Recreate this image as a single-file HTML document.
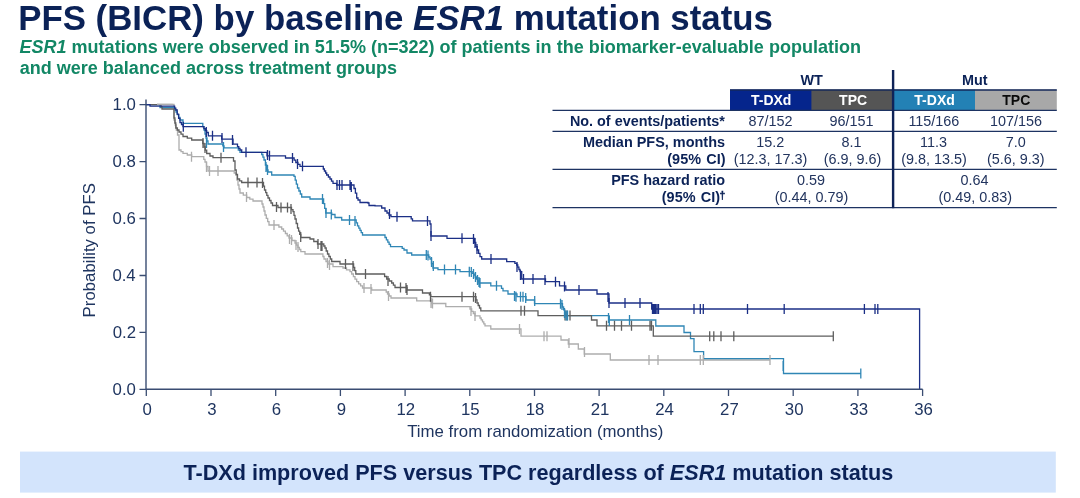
<!DOCTYPE html>
<html><head><meta charset="utf-8">
<style>
html,body{margin:0;padding:0;background:#fff;}
body{width:1080px;height:498px;position:relative;overflow:hidden;font-family:"Liberation Sans",sans-serif;}
svg{position:absolute;left:0;top:0;will-change:transform;}
svg text{font-family:"Liberation Sans",sans-serif;white-space:pre;}
</style></head><body>
<svg width="1080" height="498" viewBox="0 0 1080 498">
<rect x="20" y="451.6" width="1035.8" height="41" fill="#d3e4fc"/>
<path d="M157.0,104.4 L172.5,104.4 L174.0,104.4 L174.0,120.0 L175.2,120.0 L175.2,125.0 L176.3,125.0 L176.3,130.0 L177.5,130.0 L177.5,135.0 L179.0,135.0 L179.0,150.0 L181.0,150.0 L181.0,151.7 L183.0,151.7 L183.0,153.3 L187.3,153.3 L187.3,155.0 L191.7,155.0 L191.7,156.7 L202.5,156.7 L203.8,156.7 L203.8,159.3 L205.0,159.3 L205.0,162.0 L206.5,162.0 L206.5,166.5 L208.0,166.5 L208.0,171.0 L232.5,171.0 L234.2,171.0 L234.2,173.0 L236.0,173.0 L236.0,175.0 L237.0,175.0 L237.0,180.0 L238.0,180.0 L238.0,185.0 L239.0,185.0 L239.0,189.0 L240.0,189.0 L240.0,193.0 L243.3,193.0 L243.3,195.2 L246.7,195.2 L246.7,197.5 L249.8,197.5 L249.8,199.2 L253.0,199.2 L253.0,201.0 L261.0,201.0 L262.0,201.0 L262.0,204.0 L263.0,204.0 L263.0,207.0 L264.0,207.0 L264.0,211.0 L265.0,211.0 L265.0,215.0 L266.3,215.0 L266.3,218.3 L267.7,218.3 L267.7,221.7 L269.0,221.7 L269.0,225.0 L276.0,225.0 L278.9,225.0 L278.9,227.0 L281.7,227.0 L281.7,229.0 L283.5,229.0 L283.5,231.2 L285.4,231.2 L285.4,233.5 L287.2,233.5 L287.2,235.8 L289.0,235.8 L289.0,238.0 L292.0,238.0 L292.0,240.5 L295.0,240.5 L295.0,243.0 L296.4,243.0 L296.4,245.2 L297.9,245.2 L297.9,247.3 L299.4,247.3 L299.4,249.5 L300.8,249.5 L300.8,251.7 L305.0,251.7 L305.0,254.0 L321.7,254.0 L322.9,254.0 L322.9,256.5 L324.0,256.5 L324.0,259.0 L326.0,259.0 L326.0,261.5 L328.0,261.5 L328.0,264.0 L333.0,264.0 L333.0,266.7 L343.0,266.7 L343.0,268.0 L346.5,268.0 L346.5,269.9 L350.0,269.9 L350.0,271.7 L351.7,271.7 L351.7,274.0 L353.4,274.0 L353.4,276.6 L355.0,276.6 L355.0,279.1 L356.7,279.1 L356.7,281.7 L358.6,281.7 L358.6,283.8 L360.6,283.8 L360.6,285.9 L362.5,285.9 L362.5,288.0 L371.0,288.0 L371.7,288.0 L371.7,290.0 L385.0,290.0 L386.2,290.0 L386.2,292.0 L387.5,292.0 L387.5,294.0 L389.2,294.0 L389.2,296.0 L391.0,296.0 L391.0,298.0 L413.0,298.0 L416.7,298.0 L416.7,300.8 L429.0,300.8 L431.7,300.8 L431.7,303.5 L443.0,303.5 L445.8,303.5 L445.8,306.7 L465.0,306.7 L470.0,306.7 L470.0,309.0 L471.7,309.0 L471.7,311.3 L473.3,311.3 L473.3,313.5 L475.0,313.5 L475.0,315.8 L480.0,315.8 L480.0,318.0 L481.2,318.0 L481.2,319.9 L482.5,319.9 L482.5,321.9 L483.8,321.9 L483.8,323.9 L485.0,323.9 L485.0,325.8 L490.8,325.8 L490.8,329.0 L520.5,329.0 L521.0,329.0 L521.0,336.2 L560.8,336.2 L561.0,336.2 L561.0,340.0 L568.0,340.0 L568.3,340.0 L568.3,344.0 L578.0,344.0 L578.3,344.0 L578.3,349.0 L584.0,349.0 L584.3,349.0 L584.3,354.0 L610.0,354.0 L610.3,354.0 L610.3,360.0 L770.0,360.0" fill="none" stroke="#adadad" stroke-width="1.3" stroke-linejoin="miter"/><path d="M146.0,104.7 L158.0,104.7 L160.0,104.7 L160.0,107.5 L173.3,107.5 L174.7,107.5 L174.7,109.8 L176.0,109.8 L176.0,112.0 L177.3,112.0 L177.3,114.7 L178.7,114.7 L178.7,117.3 L180.0,117.3 L180.0,120.0 L183.0,120.0 L183.0,123.3 L201.7,123.3 L202.8,123.3 L202.8,126.7 L204.0,126.7 L204.0,130.0 L205.0,130.0 L205.0,134.0 L206.0,134.0 L206.0,138.0 L207.0,138.0 L207.0,141.0 L208.0,141.0 L208.0,144.0 L221.7,144.0 L222.8,144.0 L222.8,145.9 L224.0,145.9 L224.0,147.8 L236.7,147.8 L238.3,147.8 L238.3,150.1 L240.0,150.1 L240.0,152.3 L256.7,152.3 L261.7,152.3 L261.7,154.5 L262.9,154.5 L262.9,157.2 L264.0,157.2 L264.0,160.0 L265.4,160.0 L265.4,165.0 L266.7,165.0 L266.7,170.0 L268.0,170.0 L268.0,172.0 L271.7,172.0 L271.7,175.0 L286.7,175.0 L294.0,175.0 L294.0,176.3 L295.2,176.3 L295.2,180.2 L296.3,180.2 L296.3,184.1 L297.5,184.1 L297.5,188.0 L298.9,188.0 L298.9,191.0 L300.3,191.0 L300.3,194.0 L301.7,194.0 L301.7,197.0 L310.0,197.0 L310.0,199.0 L322.5,199.0 L323.6,199.0 L323.6,203.7 L324.7,203.7 L324.7,208.3 L325.8,208.3 L325.8,213.0 L331.7,213.0 L331.7,214.5 L335.0,214.5 L335.0,217.5 L341.7,217.5 L341.7,220.0 L355.0,220.0 L356.2,220.0 L356.2,222.9 L357.5,222.9 L357.5,225.8 L358.8,225.8 L358.8,228.1 L360.0,228.1 L360.0,230.4 L361.2,230.4 L361.2,232.7 L362.5,232.7 L362.5,235.0 L381.7,235.0 L385.0,235.0 L385.0,237.5 L386.4,237.5 L386.4,239.8 L387.8,239.8 L387.8,242.1 L389.1,242.1 L389.1,244.4 L390.5,244.4 L390.5,246.7 L400.5,246.7 L402.2,246.7 L402.2,248.3 L404.0,248.3 L404.0,250.0 L407.0,250.0 L407.0,253.0 L411.7,253.0 L411.7,255.0 L427.5,255.0 L428.8,255.0 L428.8,257.0 L430.0,257.0 L430.0,259.0 L431.5,259.0 L431.5,263.5 L433.0,263.5 L433.0,268.0 L438.0,268.0 L438.0,269.6 L458.0,269.6 L460.0,269.6 L460.0,271.7 L470.5,271.7 L472.2,271.7 L472.2,273.4 L474.0,273.4 L474.0,275.0 L475.2,275.0 L475.2,277.0 L476.5,277.0 L476.5,279.0 L477.8,279.0 L477.8,281.0 L479.0,281.0 L479.0,283.0 L489.0,283.0 L490.8,283.0 L490.8,285.8 L500.0,285.8 L501.5,285.8 L501.5,288.3 L503.0,288.3 L503.0,290.8 L508.0,290.8 L508.0,294.0 L515.0,294.0 L517.0,294.0 L517.0,296.7 L525.0,296.7 L526.0,296.7 L526.0,300.0 L534.0,300.0 L534.5,300.0 L534.5,303.7 L561.2,303.7 L562.5,303.7 L562.5,307.0 L563.6,307.0 L563.6,309.9 L564.7,309.9 L564.7,312.7 L565.8,312.7 L565.8,315.6 L608.0,315.6 L609.0,315.6 L609.0,320.0 L655.0,320.0 L655.8,320.0 L655.8,326.0 L683.3,326.0 L684.0,326.0 L684.0,332.5 L690.0,332.5 L690.5,332.5 L690.5,338.7 L693.3,338.7 L694.0,338.7 L694.0,351.7 L703.3,351.7 L703.6,351.7 L703.6,358.7 L783.0,358.7 L783.5,358.7 L783.5,373.5 L860.8,373.5" fill="none" stroke="#2f86b5" stroke-width="1.3" stroke-linejoin="miter"/><path d="M146.0,104.7 L160.0,104.7 L161.0,104.7 L161.0,106.8 L162.0,106.8 L162.0,109.0 L172.5,109.0 L174.0,109.0 L174.0,118.0 L174.9,118.0 L174.9,123.0 L175.8,123.0 L175.8,128.0 L177.4,128.0 L177.4,130.0 L179.0,130.0 L179.0,132.0 L181.0,132.0 L181.0,134.2 L183.0,134.2 L183.0,136.5 L187.3,136.5 L187.3,138.2 L191.7,138.2 L191.7,140.0 L201.7,140.0 L202.8,140.0 L202.8,143.5 L204.0,143.5 L204.0,147.0 L205.3,147.0 L205.3,150.2 L206.7,150.2 L206.7,153.5 L210.0,153.5 L210.0,156.0 L213.0,156.0 L213.0,157.7 L232.5,157.7 L233.5,157.7 L233.5,161.0 L235.0,161.0 L235.0,170.0 L236.2,170.0 L236.2,174.5 L237.5,174.5 L237.5,179.0 L239.6,179.0 L239.6,180.8 L241.7,180.8 L241.7,182.5 L262.5,182.5 L263.5,182.5 L263.5,186.2 L264.5,186.2 L264.5,190.0 L265.7,190.0 L265.7,192.7 L266.8,192.7 L266.8,195.3 L268.0,195.3 L268.0,198.0 L269.5,198.0 L269.5,200.5 L271.0,200.5 L271.0,203.0 L272.5,203.0 L272.5,205.5 L278.0,205.5 L278.0,207.5 L290.0,207.5 L291.5,207.5 L291.5,209.6 L293.0,209.6 L293.0,211.7 L294.0,211.7 L294.0,215.3 L295.0,215.3 L295.0,219.0 L296.2,219.0 L296.2,223.5 L297.5,223.5 L297.5,228.0 L298.6,228.0 L298.6,231.2 L299.7,231.2 L299.7,234.3 L300.8,234.3 L300.8,237.5 L310.0,237.5 L310.0,239.0 L313.8,239.0 L313.8,241.5 L317.5,241.5 L317.5,244.0 L322.5,244.0 L323.8,244.0 L323.8,246.0 L325.0,246.0 L325.0,248.0 L326.2,248.0 L326.2,251.0 L327.5,251.0 L327.5,254.0 L328.9,254.0 L328.9,256.5 L330.3,256.5 L330.3,259.0 L331.7,259.0 L331.7,261.5 L340.0,261.5 L340.0,264.0 L352.5,264.0 L353.6,264.0 L353.6,267.3 L354.7,267.3 L354.7,270.7 L355.8,270.7 L355.8,274.0 L382.5,274.0 L384.6,274.0 L384.6,276.5 L386.7,276.5 L386.7,279.0 L389.2,279.0 L389.2,281.0 L391.7,281.0 L391.7,283.0 L393.4,283.0 L393.4,285.2 L395.0,285.2 L395.0,287.5 L406.7,287.5 L407.0,287.5 L407.0,290.0 L421.7,290.0 L422.5,290.0 L422.5,293.0 L428.0,293.0 L429.4,293.0 L429.4,294.9 L430.8,294.9 L430.8,296.7 L475.0,296.7 L476.0,296.7 L476.0,299.9 L477.0,299.9 L477.0,303.0 L478.2,303.0 L478.2,305.5 L479.5,305.5 L479.5,308.0 L480.8,308.0 L480.8,310.8 L537.5,310.8 L538.0,310.8 L538.0,315.6 L590.8,315.6 L591.5,315.6 L591.5,320.0 L596.7,320.0 L597.0,320.0 L597.0,325.8 L653.0,325.8 L653.3,325.8 L653.3,336.2 L833.3,336.2" fill="none" stroke="#5e5e5e" stroke-width="1.3" stroke-linejoin="miter"/><path d="M146.0,104.7 L150.0,104.7 L150.0,106.2 L173.3,106.2 L174.6,106.2 L174.6,108.1 L175.8,108.1 L175.8,110.0 L177.2,110.0 L177.2,114.2 L178.6,114.2 L178.6,118.3 L180.0,118.3 L180.0,122.5 L181.5,122.5 L181.5,124.6 L183.0,124.6 L183.0,126.7 L202.5,126.7 L203.9,126.7 L203.9,128.6 L205.3,128.6 L205.3,130.6 L206.7,130.6 L206.7,132.5 L208.3,132.5 L208.3,135.8 L221.7,135.8 L221.7,139.2 L232.5,139.2 L233.0,139.2 L233.0,144.2 L237.5,144.2 L237.5,146.7 L238.8,146.7 L238.8,148.3 L240.0,148.3 L240.0,150.0 L241.7,150.0 L241.7,152.3 L266.7,152.3 L267.0,152.3 L267.0,155.8 L285.0,155.8 L285.5,155.8 L285.5,158.0 L292.5,158.0 L294.1,158.0 L294.1,160.2 L295.8,160.2 L295.8,162.5 L297.9,162.5 L297.9,164.4 L300.0,164.4 L300.0,166.3 L319.0,166.3 L323.3,166.3 L323.3,169.0 L324.4,169.0 L324.4,171.0 L325.6,171.0 L325.6,173.0 L326.7,173.0 L326.7,175.0 L328.4,175.0 L328.4,177.0 L330.0,177.0 L330.0,179.0 L331.5,179.0 L331.5,181.2 L333.0,181.2 L333.0,183.3 L336.7,183.3 L336.7,185.0 L353.0,185.0 L354.0,185.0 L354.0,188.5 L355.4,188.5 L355.4,193.2 L356.7,193.2 L356.7,198.0 L358.0,198.0 L358.0,200.0 L360.0,200.0 L360.0,202.5 L368.0,202.5 L368.0,203.0 L369.0,203.0 L369.0,205.5 L375.0,205.5 L375.0,205.8 L381.7,205.8 L381.7,208.0 L385.0,208.0 L385.0,211.0 L387.0,211.0 L387.0,213.0 L389.0,213.0 L389.0,215.0 L391.0,215.0 L391.0,216.7 L410.0,216.7 L411.2,216.7 L411.2,218.8 L412.5,218.8 L412.5,220.8 L427.5,220.8 L430.0,220.8 L430.0,224.0 L431.0,224.0 L431.0,236.0 L446.7,236.0 L447.0,236.0 L447.0,238.3 L473.3,238.3 L474.6,238.3 L474.6,242.5 L475.8,242.5 L475.8,246.7 L477.2,246.7 L477.2,250.0 L478.6,250.0 L478.6,253.4 L480.0,253.4 L480.0,256.7 L481.7,256.7 L481.7,259.0 L505.0,259.0 L506.7,259.0 L506.7,261.7 L513.0,261.7 L514.9,261.7 L514.9,263.4 L516.7,263.4 L516.7,265.0 L517.8,265.0 L517.8,267.2 L518.9,267.2 L518.9,269.5 L520.0,269.5 L520.0,271.7 L521.7,271.7 L521.7,279.0 L545.0,279.0 L545.5,279.0 L545.5,281.7 L559.0,281.7 L559.5,281.7 L559.5,285.8 L564.0,285.8 L565.8,285.8 L565.8,290.0 L596.7,290.0 L597.0,290.0 L597.0,294.0 L608.0,294.0 L609.0,294.0 L609.0,303.0 L650.8,303.0 L651.7,303.0 L651.7,309.0 L919.6,309.0 L919.6,389.3" fill="none" stroke="#1b2f86" stroke-width="1.3" stroke-linejoin="miter"/><path d="M157.0,104.4 L172.8,104.4" fill="none" stroke="#adadad" stroke-width="1.3" stroke-linejoin="miter"/><path d="M191.5,151.7V161.7M206.5,162.0V172.0M209.5,166.0V176.0M218.0,166.0V176.0M246.5,192.0V202.0M274.0,220.0V230.0M289.5,234.0V244.0M291.5,235.0V245.0M296.0,240.0V250.0M298.0,242.0V252.0M327.5,258.0V268.0M329.5,260.0V270.0M364.0,283.0V293.0M371.0,284.0V294.0M388.5,291.0V301.0M431.0,298.0V308.0M432.5,298.5V308.5M471.0,306.0V316.0M475.0,311.0V321.0M519.5,324.0V334.0M544.0,331.2V341.2M547.0,331.2V341.2M569.0,338.0V348.0M584.5,347.0V357.0M649.0,355.0V365.0M658.0,355.0V365.0M700.3,355.0V365.0M703.3,355.0V365.0M770.0,355.0V365.0" fill="none" stroke="#adadad" stroke-width="1.3"/><path d="M203.0,138.0V148.0M205.0,143.0V153.0M221.0,152.7V162.7M248.0,177.5V187.5M257.0,177.5V187.5M262.5,178.0V188.0M276.5,202.0V212.0M281.0,202.5V212.5M287.5,202.5V212.5M291.0,204.0V214.0M300.7,232.0V242.0M318.0,239.0V249.0M321.0,241.0V251.0M322.0,241.0V251.0M345.5,259.0V269.0M353.0,261.0V271.0M365.5,269.0V279.0M388.0,276.0V286.0M400.5,282.5V292.5M406.0,283.0V293.0M407.0,285.0V295.0M430.5,291.7V301.7M462.0,291.7V301.7M473.5,291.7V301.7M475.5,293.0V303.0M521.0,305.8V315.8M524.5,305.8V315.8M565.0,310.6V320.6M567.0,310.6V320.6M570.0,310.6V320.6M606.5,320.8V330.8M614.5,320.8V330.8M621.5,320.8V330.8M631.5,320.8V330.8M650.0,320.8V330.8M651.5,320.8V330.8M709.7,331.2V341.2M713.8,331.2V341.2M721.0,331.2V341.2M733.8,331.2V341.2M833.3,331.2V341.2" fill="none" stroke="#5e5e5e" stroke-width="1.3"/><path d="M206.5,138.0V148.0M223.5,142.0V152.0M266.0,162.0V172.0M267.5,165.0V175.0M322.5,194.0V204.0M326.0,208.0V218.0M331.3,209.5V219.5M349.5,215.0V225.0M355.0,216.0V226.0M426.3,250.0V260.0M428.0,250.5V260.5M431.5,257.0V267.0M433.3,261.0V271.0M444.5,264.6V274.6M455.5,264.6V274.6M469.3,266.7V276.7M471.3,267.0V277.0M473.5,269.0V279.0M475.5,272.0V282.0M477.5,275.0V285.0M479.0,277.0V287.0M480.0,278.0V288.0M496.5,280.8V290.8M514.5,291.0V301.0M516.0,291.7V301.7M520.5,291.7V301.7M523.0,291.7V301.7M525.7,293.0V303.0M534.7,296.0V306.0M560.5,298.7V308.7M562.0,300.0V310.0M564.5,308.0V318.0M566.0,310.6V320.6M567.5,310.6V320.6M608.5,313.0V323.0M609.3,316.0V326.0M629.5,315.0V325.0M783.2,361.0V371.0M860.8,368.5V378.5" fill="none" stroke="#2f86b5" stroke-width="1.3"/><path d="M183.3,121.7V131.7M206.3,127.0V137.0M212.5,130.8V140.8M222.0,133.0V143.0M232.5,135.0V145.0M246.0,147.3V157.3M267.5,150.0V160.0M269.5,150.8V160.8M292.5,153.0V163.0M297.5,159.0V169.0M302.5,161.3V171.3M337.0,180.0V190.0M339.5,180.0V190.0M342.0,180.0V190.0M350.0,180.0V190.0M351.3,182.0V192.0M389.5,209.0V219.0M397.0,211.7V221.7M427.5,216.0V226.0M431.0,231.0V241.0M462.0,233.3V243.3M473.5,234.0V244.0M475.0,238.0V248.0M477.0,244.0V254.0M491.0,254.0V264.0M517.0,262.0V272.0M520.5,270.0V280.0M523.5,274.0V284.0M533.0,274.0V284.0M545.0,275.0V285.0M555.5,276.7V286.7M564.5,281.5V291.5M579.0,285.0V295.0M608.0,292.0V302.0M609.0,298.0V308.0M625.0,298.0V308.0M640.0,298.0V308.0M652.5,304.0V314.0M653.2,304.0V314.0M654.0,304.0V314.0M654.7,304.0V314.0M655.5,304.0V314.0M657.0,304.0V314.0M658.5,304.0V314.0M694.0,304.0V314.0M700.3,304.0V314.0M703.3,304.0V314.0M747.5,304.0V314.0M784.2,304.0V314.0M864.4,304.0V314.0M875.0,304.0V314.0M877.8,304.0V314.0" fill="none" stroke="#1b2f86" stroke-width="1.3"/>
<path d="M146,99.5V389.3H922.6" fill="none" stroke="#3a4d72" stroke-width="1.4"/><path d="M139.5,104.7H146M139.5,161.6H146M139.5,218.5H146M139.5,275.5H146M139.5,332.4H146M139.5,389.3H146M146.3,389.3V396M211.0,389.3V396M275.7,389.3V396M340.4,389.3V396M405.1,389.3V396M469.8,389.3V396M534.5,389.3V396M599.1,389.3V396M663.8,389.3V396M728.5,389.3V396M793.2,389.3V396M857.9,389.3V396M922.6,389.3V396" fill="none" stroke="#3a4d72" stroke-width="1.3"/>
<rect x="811" y="89.6" width="82" height="20.6" fill="#555555"/>
<rect x="730" y="89.6" width="81.4" height="20.6" fill="#05258c"/>
<rect x="974.5" y="89.6" width="82.3" height="20.6" fill="#a8a8a8"/>
<rect x="893" y="89.6" width="82" height="20.6" fill="#2381b5"/>
<path d="M730,90H1056.8" stroke="#14285a" stroke-width="1.4"/>
<path d="M552.5,110.4H1056.8M552.5,131.3H1056.8M552.5,169.4H1056.8M552.5,207.6H1056.8" stroke="#1d3362" stroke-width="1.3" fill="none"/>
<rect x="891.9" y="70" width="2.4" height="138.2" fill="#0f2358"/>

<text x="18.21" y="29.6" font-size="34.83" fill="#0b2257" xml:space="preserve"><tspan style="font-weight:bold;">PFS (BICR) by baseline </tspan><tspan style="font-weight:bold;font-style:italic;">ESR1</tspan><tspan style="font-weight:bold;"> mutation status</tspan></text>
<text x="19.52" y="53.4" font-size="18.02" fill="#128765" xml:space="preserve"><tspan style="font-weight:bold;font-style:italic;">ESR1</tspan><tspan style="font-weight:bold;"> mutations were observed in 51.5% (n=322) of patients in the biomarker-evaluable population</tspan></text>
<text x="19.84" y="74.2" font-size="18.00" fill="#128765" xml:space="preserve"><tspan style="font-weight:bold;">and were balanced across treatment groups</tspan></text>
<text x="407.16" y="436.8" font-size="16.81" fill="#1f3560" xml:space="preserve"><tspan style="">Time from randomization (months)</tspan></text>
<text x="183.48" y="480.0" font-size="21.62" fill="#0b2257" xml:space="preserve"><tspan style="font-weight:bold;">T-DXd improved PFS versus TPC regardless of </tspan><tspan style="font-weight:bold;font-style:italic;">ESR1</tspan><tspan style="font-weight:bold;"> mutation status</tspan></text>
<text x="112.55" y="109.9" font-size="16.80" fill="#1f3560" xml:space="preserve"><tspan style="">1.0</tspan></text>
<text x="112.55" y="166.8" font-size="16.80" fill="#1f3560" xml:space="preserve"><tspan style="">0.8</tspan></text>
<text x="112.55" y="223.7" font-size="16.80" fill="#1f3560" xml:space="preserve"><tspan style="">0.6</tspan></text>
<text x="112.39" y="280.7" font-size="16.80" fill="#1f3560" xml:space="preserve"><tspan style="">0.4</tspan></text>
<text x="112.72" y="337.6" font-size="16.80" fill="#1f3560" xml:space="preserve"><tspan style="">0.2</tspan></text>
<text x="112.55" y="394.5" font-size="16.80" fill="#1f3560" xml:space="preserve"><tspan style="">0.0</tspan></text>
<text x="142.58" y="414.6" font-size="16.80" fill="#1f3560" xml:space="preserve"><tspan style="">0</tspan></text>
<text x="207.27" y="414.6" font-size="16.80" fill="#1f3560" xml:space="preserve"><tspan style="">3</tspan></text>
<text x="271.80" y="414.6" font-size="16.80" fill="#1f3560" xml:space="preserve"><tspan style="">6</tspan></text>
<text x="336.66" y="414.6" font-size="16.80" fill="#1f3560" xml:space="preserve"><tspan style="">9</tspan></text>
<text x="396.42" y="414.6" font-size="16.80" fill="#1f3560" xml:space="preserve"><tspan style="">12</tspan></text>
<text x="461.03" y="414.6" font-size="16.80" fill="#1f3560" xml:space="preserve"><tspan style="">15</tspan></text>
<text x="525.72" y="414.6" font-size="16.80" fill="#1f3560" xml:space="preserve"><tspan style="">18</tspan></text>
<text x="590.67" y="414.6" font-size="16.80" fill="#1f3560" xml:space="preserve"><tspan style="">21</tspan></text>
<text x="655.19" y="414.6" font-size="16.80" fill="#1f3560" xml:space="preserve"><tspan style="">24</tspan></text>
<text x="720.05" y="414.6" font-size="16.80" fill="#1f3560" xml:space="preserve"><tspan style="">27</tspan></text>
<text x="784.83" y="414.6" font-size="16.80" fill="#1f3560" xml:space="preserve"><tspan style="">30</tspan></text>
<text x="849.52" y="414.6" font-size="16.80" fill="#1f3560" xml:space="preserve"><tspan style="">33</tspan></text>
<text x="914.21" y="414.6" font-size="16.80" fill="#1f3560" xml:space="preserve"><tspan style="">36</tspan></text>
<text x="800.51" y="84.7" font-size="14.40" fill="#0b2257" xml:space="preserve"><tspan style="font-weight:bold;">WT</tspan></text>
<text x="962.00" y="84.7" font-size="14.40" fill="#0b2257" xml:space="preserve"><tspan style="font-weight:bold;">Mut</tspan></text>
<text x="750.94" y="105.3" font-size="14.00" fill="#fff" xml:space="preserve"><tspan style="font-weight:bold;">T-DXd</tspan></text>
<text x="839.09" y="105.3" font-size="14.00" fill="#fff" xml:space="preserve"><tspan style="font-weight:bold;">TPC</tspan></text>
<text x="914.34" y="105.3" font-size="14.00" fill="#fff" xml:space="preserve"><tspan style="font-weight:bold;">T-DXd</tspan></text>
<text x="1002.29" y="105.3" font-size="14.00" fill="#0a0a0a" xml:space="preserve"><tspan style="font-weight:bold;">TPC</tspan></text>
<text x="569.94" y="126.2" font-size="14.38" fill="#0b2257" xml:space="preserve"><tspan style="font-weight:bold;">No. of events/patients*</tspan></text>
<text x="582.93" y="146.5" font-size="14.46" fill="#0b2257" xml:space="preserve"><tspan style="font-weight:bold;">Median PFS, months</tspan></text>
<text x="667.31" y="164.4" font-size="14.45" fill="#0b2257" xml:space="preserve"><tspan style="font-weight:bold;">(95%</tspan><tspan style="font-weight:bold;" dx="1.3"> CI)</tspan></text>
<text x="611.13" y="184.8" font-size="14.44" fill="#0b2257" xml:space="preserve"><tspan style="font-weight:bold;">PFS hazard ratio</tspan></text>
<text x="661.81" y="202.0" font-size="14.45" fill="#0b2257" xml:space="preserve"><tspan style="font-weight:bold;">(95%</tspan><tspan style="font-weight:bold;" dx="1.3"> CI)</tspan></text>
<text x="748.42" y="125.9" font-size="14.40" fill="#22345e" xml:space="preserve"><tspan style="">87/152</tspan></text>
<text x="829.42" y="125.9" font-size="14.40" fill="#22345e" xml:space="preserve"><tspan style="">96/151</tspan></text>
<text x="908.41" y="125.9" font-size="14.40" fill="#22345e" xml:space="preserve"><tspan style="">115/166</tspan></text>
<text x="989.98" y="125.9" font-size="14.40" fill="#22345e" xml:space="preserve"><tspan style="">107/156</tspan></text>
<text x="756.17" y="146.6" font-size="14.40" fill="#22345e" xml:space="preserve"><tspan style="">15.2</tspan></text>
<text x="841.39" y="146.6" font-size="14.40" fill="#22345e" xml:space="preserve"><tspan style="">8.1</tspan></text>
<text x="920.08" y="146.6" font-size="14.40" fill="#22345e" xml:space="preserve"><tspan style="">11.3</tspan></text>
<text x="1005.74" y="146.6" font-size="14.40" fill="#22345e" xml:space="preserve"><tspan style="">7.0</tspan></text>
<text x="733.63" y="164.2" font-size="14.40" fill="#22345e" xml:space="preserve"><tspan style="">(12.3, 17.3)</tspan></text>
<text x="823.64" y="164.2" font-size="14.40" fill="#22345e" xml:space="preserve"><tspan style="">(6.9, 9.6)</tspan></text>
<text x="901.13" y="164.2" font-size="14.40" fill="#22345e" xml:space="preserve"><tspan style="">(9.8, 13.5)</tspan></text>
<text x="986.99" y="164.2" font-size="14.40" fill="#22345e" xml:space="preserve"><tspan style="">(5.6, 9.3)</tspan></text>
<text x="796.95" y="184.7" font-size="14.40" fill="#22345e" xml:space="preserve"><tspan style="">0.59</tspan></text>
<text x="960.61" y="184.7" font-size="14.40" fill="#22345e" xml:space="preserve"><tspan style="">0.64</tspan></text>
<text x="774.63" y="202.0" font-size="14.40" fill="#22345e" xml:space="preserve"><tspan style="">(0.44, 0.79)</tspan></text>
<text x="938.48" y="202.0" font-size="14.40" fill="#22345e" xml:space="preserve"><tspan style="">(0.49, 0.83)</tspan></text>
<text transform="translate(95.1,317.4) rotate(-90)" font-size="16.8" fill="#1f3560">Probability of PFS</text><text x="719.6" y="198.8" font-size="10.5" font-weight="bold" fill="#0b2257" stroke="#0b2257" stroke-width="0.35">&#8224;</text>
</svg>
</body></html>
